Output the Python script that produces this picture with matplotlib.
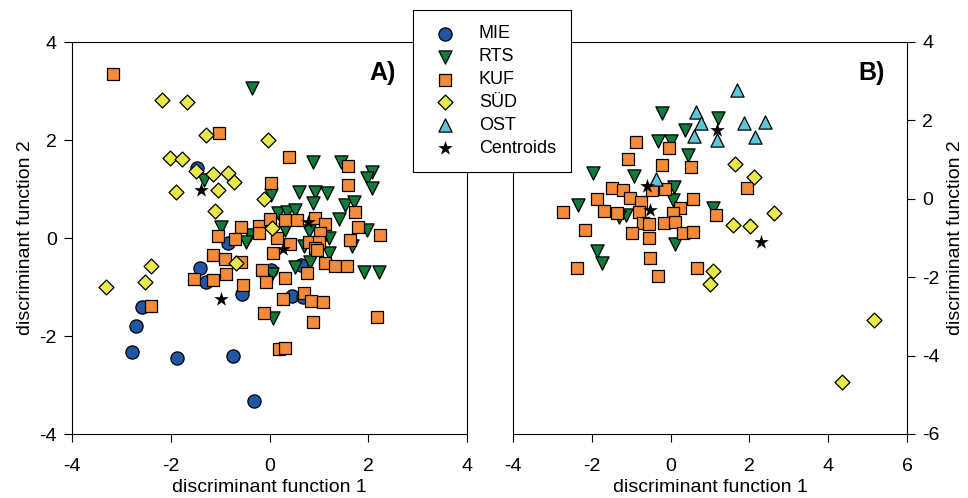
import matplotlib
matplotlib.use("Agg")
import matplotlib.pyplot as plt

plt.rcParams['font.family'] = ['Liberation Sans', 'DejaVu Sans']
plt.rcParams['axes.unicode_minus'] = False

# ---- Panel A ----
mie_a_x = [-1.47, -1.41, -1.29, -2.59, -2.71, -2.78, -1.88, -0.73, -0.31, -0.84, -0.55, 0.04, 0.45, 0.63, 0.67]
mie_a_y = [1.43, -0.61, -0.90, -1.41, -1.80, -2.33, -2.45, -2.41, -3.33, -0.10, -1.14, -0.65, -1.18, -0.55, -1.20]

rts_a_x = [-0.35, 0.88, 1.45, 2.08, 1.98, 2.08, 0.59, 0.92, 1.16, 0.88, 1.53, 1.71, -1.33, 0.04, 0.18,
           0.35, 0.51, 1.41, -0.98, -0.39, -0.47, 0.31, 0.80, 1.20, 1.98, 1.67, 0.69, 1.02, 1.20, 0.51,
           0.82, 0.06, 1.92, 2.22, 0.08]
rts_a_y = [3.06, 1.55, 1.55, 1.35, 1.22, 1.02, 0.94, 0.94, 0.92, 0.71, 0.67, 0.73, 1.18, 0.88, 0.51,
           0.53, 0.57, 0.39, 0.22, 0.06, -0.08, 0.16, 0.14, 0.00, 0.16, -0.16, -0.16, -0.14, -0.31, -0.59,
           -0.49, -0.73, -0.69, -0.69, -1.63]

kuf_a_x = [-3.16, -1.02, 0.39, 1.59, 1.59, 0.04, 1.73, 1.80, 2.24, -0.57, -0.22, 0.00, 0.31, 0.55, 0.92,
           1.12, -1.04, -0.69, -0.22, 0.16, 0.80, 1.02, 1.00, 0.92, 1.63, 0.41, 0.08, -1.14, -0.90, -0.57,
           -0.16, 0.31, -0.08, 1.12, 1.33, 1.57, 0.76, -0.88, -1.53, -1.14, -0.53, 0.69, 0.27, 0.84, 1.08,
           -0.12, 0.88, 2.18, -2.39, 0.20, 0.31, 0.96]
kuf_a_y = [3.35, 2.14, 1.65, 1.47, 1.08, 1.12, 0.53, 0.22, 0.06, 0.22, 0.24, 0.39, 0.37, 0.37, 0.41,
           0.29, 0.04, -0.02, 0.10, 0.00, -0.08, 0.10, -0.08, -0.20, -0.04, -0.12, -0.31, -0.35, -0.43, -0.49,
           -0.65, -0.82, -0.90, -0.51, -0.57, -0.57, -0.71, -0.73, -0.84, -0.86, -0.96, -1.12, -1.24, -1.29, -1.31,
           -1.53, -1.71, -1.61, -1.39, -2.27, -2.24, -0.24]

sud_a_x = [-2.18, -1.67, -1.29, -0.04, -2.02, -1.78, -1.49, -1.14, -0.84, -0.71, -1.90, -1.04, -1.10, -0.12,
           0.06, -0.67, -3.31, -2.53, -2.39]
sud_a_y = [2.82, 2.78, 2.10, 2.00, 1.63, 1.61, 1.37, 1.31, 1.33, 1.14, 0.94, 0.98, 0.55, 0.80,
           0.20, -0.51, -1.00, -0.90, -0.57]

cen_a_x = [-0.98, -1.39, 0.28, 0.78]
cen_a_y = [-1.24, 0.98, -0.23, 0.33]

# ---- Panel B ----
rts_b_x = [-0.23, 0.36, -0.33, 0.00, 0.43, -1.96, -0.92, 0.08, 0.05, -1.12, -1.32, -2.34, 0.10, -1.86, -1.73, 1.20, 1.07]
rts_b_y = [2.19, 1.76, 1.48, 1.48, 1.12, 0.66, 0.59, 0.31, -0.03, -0.41, -0.46, -0.15, -1.15, -1.33, -1.63, 2.07, -0.23]

kuf_b_x = [-0.89, -1.09, -0.05, -0.23, 0.51, -1.48, -1.20, -1.02, -1.88, -1.70, -2.72, -1.37, -0.76, -0.79,
           -0.48, -0.15, 0.56, 0.25, 0.05, -0.18, 0.10, 0.31, 0.56, -0.69, -0.56, -0.97, -0.56, -2.16, -2.37,
           -0.53, -0.33, 0.66, 1.93, 1.15]
kuf_b_y = [1.45, 1.02, 1.30, 0.87, 0.82, 0.28, 0.23, 0.03, 0.00, -0.31, -0.33, -0.36, -0.08, -0.33,
           0.23, 0.26, 0.00, -0.23, -0.36, -0.61, -0.59, -0.87, -0.84, -0.61, -0.64, -0.87, -0.99, -0.79, -1.76,
           -1.51, -1.96, -1.76, 0.28, -0.41]

sud_b_x = [1.63, 2.11, 2.62, 1.58, 2.01, 1.07, 0.99, 5.17, 4.35]
sud_b_y = [0.89, 0.56, -0.36, -0.66, -0.69, -1.83, -2.17, -3.09, -4.67]

ost_b_x = [1.68, 0.64, 0.76, 0.59, 1.17, 1.86, 2.39, 2.14, -0.36]
ost_b_y = [2.78, 2.22, 1.94, 1.61, 1.51, 1.94, 1.96, 1.58, 0.51]

cen_b_x = [-0.59, -0.53, 1.17, 2.29]
cen_b_y = [0.33, -0.28, 1.76, -1.10]

c_mie = '#1f56a6'
c_rts = '#127a3a'
c_kuf = '#f58a38'
c_sud = '#e8e84a'
c_ost = '#5cc6d6'

fig = plt.figure(figsize=(9.68, 4.98), dpi=100)
axA = fig.add_axes([72/968, 1-434/498, 395/968, 392/498])
axB = fig.add_axes([513/968, 1-434/498, 394/968, 392/498])

ec = dict(edgecolors='black', linewidths=0.9)

axA.scatter(mie_a_x, mie_a_y, marker='o', s=9.5**2, color=c_mie, label='MIE', **ec)
axA.scatter(rts_a_x, rts_a_y, marker='v', s=9.5**2, color=c_rts, label='RTS', **ec)
axA.scatter(kuf_a_x, kuf_a_y, marker='s', s=8.6**2, color=c_kuf, label='KUF', **ec)
axA.scatter(sud_a_x, sud_a_y, marker='D', s=7.6**2, color=c_sud, label='SÜD', **ec)
axA.scatter([], [], marker='^', s=9.5**2, color=c_ost, label='OST', **ec)
axA.scatter(cen_a_x, cen_a_y, marker='*', s=11**2, color='black', linewidths=0, label='Centroids')

axB.scatter(rts_b_x, rts_b_y, marker='v', s=9.5**2, color=c_rts, **ec)
axB.scatter(kuf_b_x, kuf_b_y, marker='s', s=8.6**2, color=c_kuf, **ec)
axB.scatter(sud_b_x, sud_b_y, marker='D', s=7.6**2, color=c_sud, **ec)
axB.scatter(ost_b_x, ost_b_y, marker='^', s=9.5**2, color=c_ost, **ec)
axB.scatter(cen_b_x, cen_b_y, marker='*', s=11**2, color='black', linewidths=0)

axA.set_xlim(-4, 4)
axA.set_ylim(-4, 4)
axA.set_xticks([-4, -2, 0, 2, 4])
axA.set_yticks([-4, -2, 0, 2, 4])
axA.set_xlabel('discriminant function 1', fontsize=14, labelpad=3)
axA.set_ylabel('discriminant function 2', fontsize=14, labelpad=4)
axA.text(0.787, 0.921, 'A)', transform=axA.transAxes, fontsize=18, fontweight='bold', ha='center', va='center')

axB.set_xlim(-4, 6)
axB.set_ylim(-6, 4)
axB.set_xticks([-4, -2, 0, 2, 4, 6])
axB.set_yticks([-6, -4, -2, 0, 2, 4])
axB.yaxis.tick_right()
axB.yaxis.set_label_position('right')
axB.set_xlabel('discriminant function 1', fontsize=14, labelpad=3)
axB.set_ylabel('discriminant function 2', fontsize=14, labelpad=5)
axB.text(0.911, 0.921, 'B)', transform=axB.transAxes, fontsize=18, fontweight='bold', ha='center', va='center')

for ax in (axA, axB):
    ax.tick_params(direction='out', length=6, width=0.8, labelsize=14, pad=5)
    ax.tick_params(axis='x', pad=11)
    for sp in ax.spines.values():
        sp.set_linewidth(0.8)

leg = fig.legend(*axA.get_legend_handles_labels(), loc='upper left',
                 bbox_to_anchor=(413/968, 1-10/498), borderaxespad=0, fancybox=False,
                 edgecolor='black', framealpha=1, fontsize=13, labelspacing=0.33,
                 handletextpad=1.0, borderpad=0.85, handlelength=1.8)
leg.get_frame().set_linewidth(0.8)
leg.set_zorder(10)

fig.savefig('out.png', dpi=100)
